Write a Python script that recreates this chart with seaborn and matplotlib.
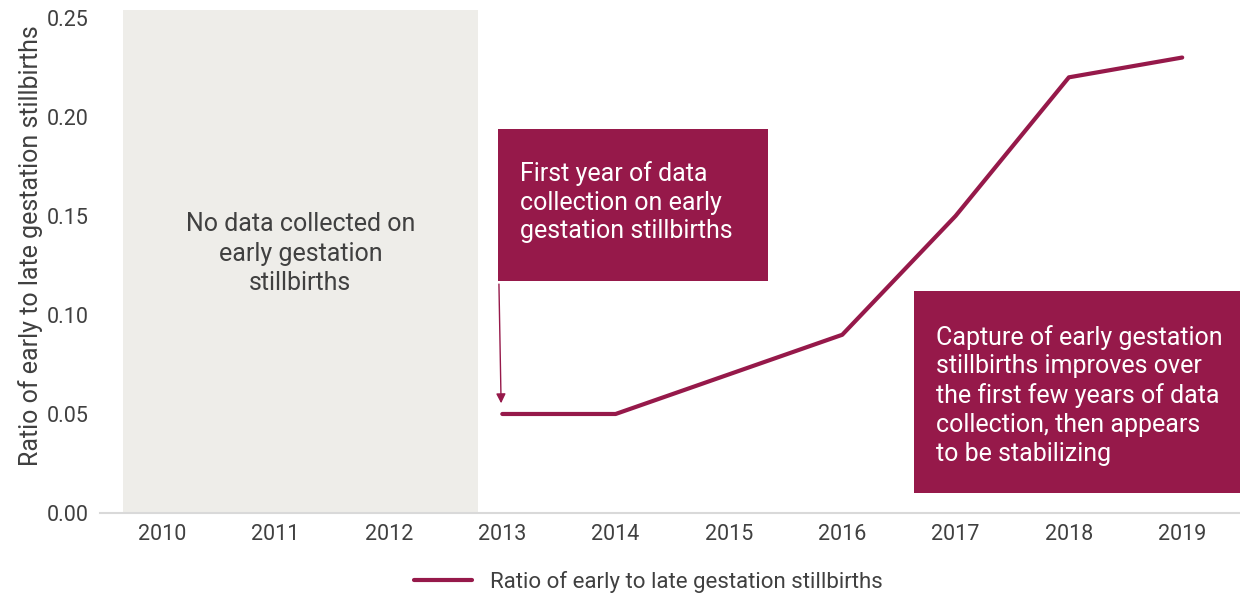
import pandas as pd
import matplotlib.pyplot as plt
import seaborn as sns
from matplotlib.patches import Rectangle

# Dados do gráfico
anos = ['2010', '2011', '2012', '2013', '2014', '2015', '2016', '2017', '2018', '2019']
razao = [None, None, None, 0.05, 0.05, 0.07, 0.09, 0.15, 0.22, 0.23]
yticks = [0.00, 0.05, 0.10, 0.15, 0.20, 0.25]
serie = 'Ratio of early to late gestation stillbirths'

df = pd.DataFrame({'ano': anos, 'razao': razao})
df['pos'] = range(len(anos))
df = df.dropna()

sns.set_style('white')
plt.rcParams['font.family'] = ['Roboto', 'DejaVu Sans']

cor = '#96194a'
cinza = '#404040'

fig = plt.figure(figsize=(12.4, 5.97), dpi=100)
ax = fig.add_axes([100 / 1240, 1 - 513 / 597, 1140 / 1240, 503 / 597])

# Região sem dados (2010-2012)
ax.axvspan(-0.35, 2.79, color='#eeede9', zorder=0, lw=0)
ax.text(1.218, 0.131, 'No data collected on\nearly gestation\nstillbirths', ha='center', va='center',
        fontsize=18, color=cinza, linespacing=1.3)

sns.lineplot(data=df, x='pos', y='razao', color=cor, linewidth=3, ax=ax, label=serie, legend=False)

ax.set_xlim(-0.55, 9.51)
ax.set_ylim(0, 0.254)
ax.set_xticks(range(len(anos)), anos)
ax.set_yticks(yticks, [f'{v:.2f}' for v in yticks])
ax.tick_params(axis='both', length=0, labelsize=15.5, colors=cinza, pad=8)
ax.set_xlabel('')
ax.set_ylabel(serie, fontsize=18, color=cinza)
ax.yaxis.set_label_coords(-0.05, 0.531)
for lado in ['top', 'right', 'left']:
    ax.spines[lado].set_visible(False)
ax.spines['bottom'].set_color('#d9d9d9')
ax.spines['bottom'].set_linewidth(1.5)

# Caixa 1
ax.add_patch(Rectangle((2.965, 0.1172), 2.382, 0.0767, facecolor=cor, edgecolor='none', zorder=3))
ax.text(3.159, 0.157, 'First year of data\ncollection on early\ngestation stillbirths', ha='left', va='center',
        fontsize=18, color='white', linespacing=1.25, zorder=4)
ax.annotate('', xy=(2.99, 0.054), xytext=(2.97, 0.117),
            arrowprops=dict(arrowstyle='-|>', color=cor, lw=1, mutation_scale=14))

# Caixa 2
ax.add_patch(Rectangle((6.635, 0.0101), 2.875, 0.102, facecolor=cor, edgecolor='none', zorder=3, clip_on=False))
ax.text(6.83, 0.0595, 'Capture of early gestation\nstillbirths improves over\nthe first few years of data\ncollection, then appears\nto be stabilizing',
        ha='left', va='center', fontsize=18, color='white', linespacing=1.25, zorder=4)

fig.legend(handles=ax.get_lines(), labels=[serie], loc='center', bbox_to_anchor=(0.523, 0.025),
           frameon=False, fontsize=16, handlelength=2.6, labelcolor=cinza)

fig.savefig('out.png', dpi=100)
